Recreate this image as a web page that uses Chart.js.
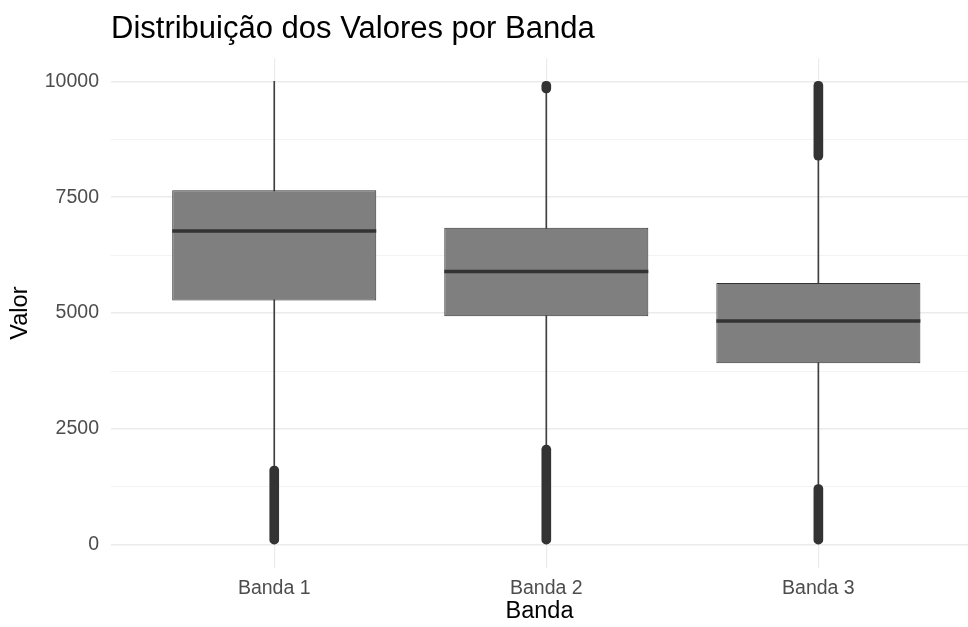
<!DOCTYPE html>
<html lang="pt">
<head>
<meta charset="utf-8">
<title>Distribuição dos Valores por Banda</title>
<script src="https://cdn.jsdelivr.net/npm/chart.js@4.4.1/dist/chart.umd.min.js"></script>
<style>
  html, body { margin: 0; padding: 0; background: #ffffff; }
  #wrap { width: 968px; height: 627px; position: relative; }
</style>
</head>
<body>
<div id="wrap"><canvas id="boxplot"></canvas></div>
<script>
// Resumo de cada banda (quartis, bigodes e faixas de outliers)
const bandas = ['Banda 1', 'Banda 2', 'Banda 3'];
const q1 = [5270, 4930, 3920];
const medianas = [6770, 5900, 4830];
const q3 = [7650, 6840, 5650];
const bigodeInferior = [1700, 2150, 1300];
const bigodeSuperior = [10000, 9750, 8300];
// faixas densas de outliers (mínimo, máximo) — a banda 1 não tem outliers acima
const outliersInferiores = [[0, 1700], [0, 2150], [0, 1300]];
const outliersSuperiores = [null, [9750, 10000], [8300, 10000]];
const ticksValor = [0, 1250, 2500, 3750, 5000, 6250, 7500, 8750, 10000];

const FONTE = "'Liberation Sans', Arial, sans-serif";
const CINZA_ESCURO = '#333333';

const pontos = (faixas) => faixas
  .map((f, i) => (f ? { x: i + 1, y: f } : null))
  .filter(p => p !== null);

const datasets = [
  {
    // linha da mediana
    type: 'scatter',
    data: medianas.map((m, i) => ({ x: i + 1, y: m })),
    pointStyle: 'line',
    radius: 102,
    borderColor: CINZA_ESCURO,
    borderWidth: 3.5,
    order: 0
  },
  {
    type: 'bar',
    data: pontos(outliersInferiores),
    backgroundColor: CINZA_ESCURO,
    barThickness: 9,
    borderRadius: 5,
    borderSkipped: false,
    order: 1
  },
  {
    type: 'bar',
    data: pontos(outliersSuperiores),
    backgroundColor: CINZA_ESCURO,
    barThickness: 9,
    borderRadius: 5,
    borderSkipped: false,
    order: 1
  },
  {
    // caixa Q1-Q3
    type: 'bar',
    data: bandas.map((_, i) => ({ x: i + 1, y: [q1[i], q3[i]] })),
    backgroundColor: '#7f7f7f',
    borderColor: CINZA_ESCURO,
    borderWidth: 1,
    borderSkipped: false,
    categoryPercentage: 1,
    barPercentage: 0.75,
    order: 2
  },
  {
    // bigodes
    type: 'bar',
    data: bandas.map((_, i) => ({ x: i + 1, y: [bigodeInferior[i], bigodeSuperior[i]] })),
    backgroundColor: '#404040',
    barThickness: 1,
    order: 3
  }
];

new Chart(document.getElementById('boxplot').getContext('2d'), {
  type: 'bar',
  data: { datasets },
  options: {
    responsive: true,
    maintainAspectRatio: false,
    animation: false,
    events: [],
    layout: { autoPadding: false, padding: { top: 6, left: 0, right: 0, bottom: 0 } },
    datasets: { bar: { grouped: false } },
    plugins: {
      legend: { display: false },
      tooltip: { enabled: false },
      title: {
        display: true,
        text: 'Distribuição dos Valores por Banda',
        align: 'start',
        fullSize: false,
        color: '#000000',
        font: { family: FONTE, size: 31, weight: 'normal' },
        padding: { top: 5, bottom: 10 }
      }
    },
    scales: {
      x: {
        type: 'linear',
        min: 0.4,
        max: 3.55,
        offset: false,
        afterBuildTicks: (scale) => { scale.ticks = [1, 2, 3].map(v => ({ value: v })); },
        afterFit: (scale) => { scale.height = 59; },
        ticks: {
          color: '#4d4d4d',
          padding: 9,
          font: { family: FONTE, size: 19.5 },
          callback: (v) => bandas[v - 1]
        },
        grid: { offset: false, color: '#ebebeb', lineWidth: 1.2, drawTicks: false },
        border: { display: false },
        title: {
          display: true,
          text: 'Banda',
          color: '#000000',
          font: { family: FONTE, size: 23.5 },
          padding: { top: 0, bottom: 1 }
        }
      },
      y: {
        min: -500,
        max: 10500,
        afterBuildTicks: (scale) => { scale.ticks = ticksValor.map(v => ({ value: v })); },
        afterFit: (scale) => { scale.width = 111; },
        ticks: {
          color: '#4d4d4d',
          padding: 12,
          font: { family: FONTE, size: 19.5 },
          callback: (v) => (v % 2500 === 0 ? String(v) : '')
        },
        grid: {
          drawTicks: false,
          color: (ctx) => (ctx.tick && ctx.tick.value % 2500 === 0 ? '#ebebeb' : '#f3f3f3'),
          lineWidth: (ctx) => (ctx.tick && ctx.tick.value % 2500 === 0 ? 1.5 : 1)
        },
        border: { display: false },
        title: {
          display: true,
          text: 'Valor',
          color: '#000000',
          font: { family: FONTE, size: 23.5 },
          padding: { top: 6, bottom: 0 }
        }
      }
    }
  }
});
</script>
</body>
</html>
